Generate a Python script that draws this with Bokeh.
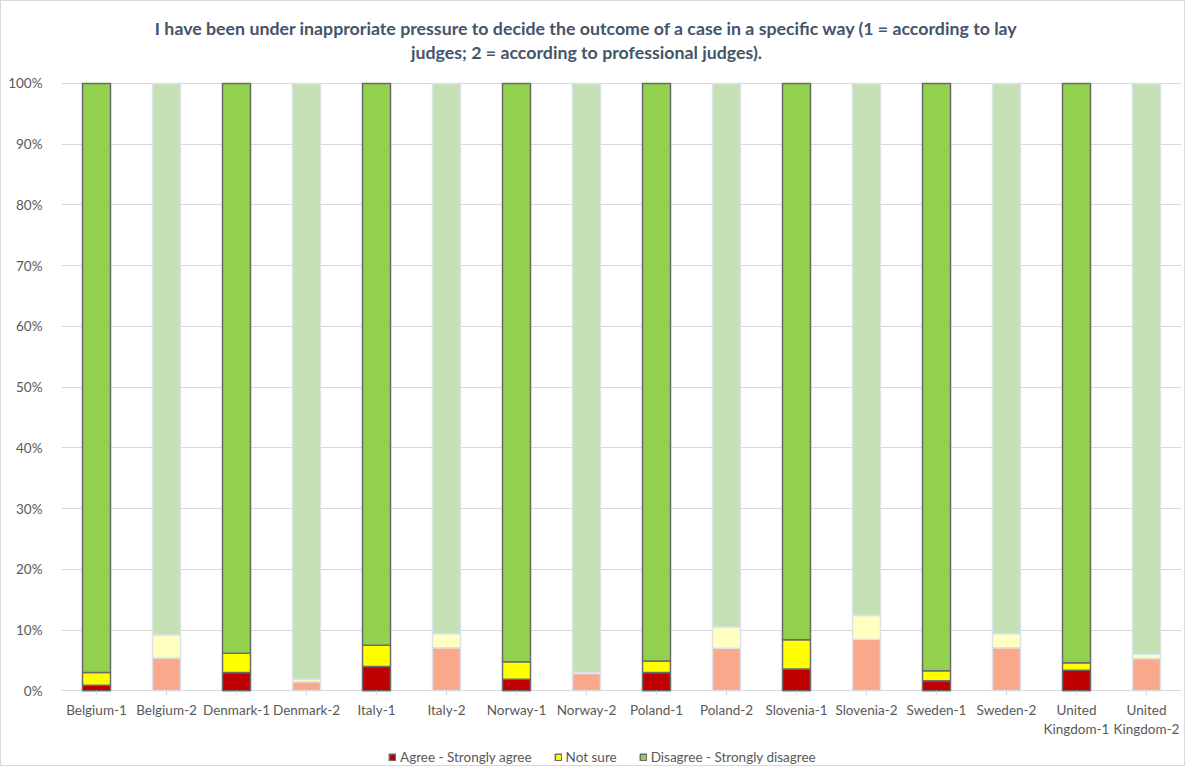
from bokeh.plotting import figure
from bokeh.models import (Range1d, FactorRange, FixedTicker, Legend, LegendItem,
                          ColumnDataSource, Label)
from bokeh.embed import file_html
from bokeh.resources import INLINE

categories = ["Belgium-1", "Belgium-2", "Denmark-1", "Denmark-2", "Italy-1", "Italy-2",
              "Norway-1", "Norway-2", "Poland-1", "Poland-2", "Slovenia-1", "Slovenia-2",
              "Sweden-1", "Sweden-2", "United Kingdom-1", "United Kingdom-2"]
agree = [0.9, 5.4, 3.0, 1.5, 4.0, 7.1, 1.9, 2.85, 3.0, 7.0, 3.6, 8.5, 1.65, 7.1, 3.4, 5.3]
not_sure = [2.1, 3.8, 3.2, 0.4, 3.5, 2.3, 2.9, 0.15, 1.9, 3.5, 4.8, 3.9, 1.65, 2.3, 1.2, 0.7]
disagree = [97.0, 90.8, 93.8, 98.1, 92.5, 90.6, 95.2, 97.0, 95.1, 89.5, 91.6, 87.6, 96.7, 90.6, 95.4, 94.0]
series = ["Agree - Strongly agree", "Not sure", "Disagree - Strongly disagree"]
y_ticks = [0, 10, 20, 30, 40, 50, 60, 70, 80, 90, 100]
title_lines = ["I have been under inapproriate pressure to decide the outcome of a case in a specific way (1 = according to lay",
               "judges; 2 = according to professional judges)."]

FONT = "Lato"
GREY = "#595959"
GRID = "#D9D9D9"

def subset(suffix):
    idx = [i for i, c in enumerate(categories) if c.endswith(suffix)]
    return ColumnDataSource(dict(
        cat=[categories[i] for i in idx],
        agree=[agree[i] for i in idx],
        not_sure=[not_sure[i] for i in idx],
        disagree=[disagree[i] for i in idx],
    ))

p = figure(frame_width=1120, frame_height=764, x_range=FactorRange(*categories),
           y_range=Range1d(-12.30, 113.50), output_backend="svg", toolbar_location=None,
           title=None, x_axis_location=None,
           min_border_left=60, min_border_right=3, min_border_top=0, min_border_bottom=0)
p.outline_line_color = None
p.background_fill_color = "white"
p.border_fill_color = "white"
p.styles = {"border": "1px solid #D9D9D9"}
for g in p.xgrid:
    g.visible = False

src1 = subset("-1")
src2 = subset("-2")
keys = ["agree", "not_sure", "disagree"]
r1 = p.vbar_stack(keys, x="cat", width=0.4, source=src1,
                  color=["#C00000", "#FFFF00", "#92D050"],
                  line_color="#6B6B6B", line_width=1.5)
r2 = p.vbar_stack(keys, x="cat", width=0.4, source=src2,
                  fill_color=["#FAA88C", "#FFFFC0", "#C5E0B4"],
                  line_color="#DCE2EA", line_width=1.5)

p.yaxis.ticker = FixedTicker(ticks=y_ticks)
p.yaxis.major_label_overrides = {v: f"{v}%" for v in y_ticks}
p.yaxis.axis_line_color = None
p.yaxis.major_tick_line_color = None
p.yaxis.minor_tick_line_color = None
p.yaxis.major_label_text_font = FONT
p.yaxis.major_label_text_font_size = "13.5px"
p.yaxis.major_label_text_color = GREY
p.yaxis.major_label_standoff = 13
p.ygrid.grid_line_color = GRID
p.ygrid.ticker = FixedTicker(ticks=y_ticks)

# category axis: tick marks and (wrapped) labels
line1 = [c.split(" ")[0] if c.startswith("United") else c for c in categories]
line2 = [c.split(" ", 1)[1] if c.startswith("United") else "" for c in categories]
lab = ColumnDataSource(dict(cat=categories, l1=line1, l2=line2,
                            t0=[0] * len(categories), t1=[-0.7] * len(categories),
                            y1=[-3.08] * len(categories), y2=[-6.3] * len(categories)))
p.segment(x0="cat", x1="cat", y0="t0", y1="t1", source=lab, line_color=GRID, line_width=1)
p.text(x="cat", y="y1", text="l1", source=lab, text_align="center",
       text_baseline="middle", text_font={"value": FONT}, text_font_size="13.5px",
       text_color=GREY)
p.text(x="cat", y="y2", text="l2", source=lab, text_align="center",
       text_baseline="middle", text_font={"value": FONT}, text_font_size="13.5px",
       text_color=GREY)

# title
for txt, yy in zip(title_lines, [109.2, 105.25]):
    p.add_layout(Label(x=7.5, y=yy, text=txt, text_align="center", text_baseline="middle",
                       text_font=FONT, text_font_size="17.75px", text_font_style="bold",
                       text_color="#44546A"))

legend = Legend(items=[LegendItem(label=series[i], renderers=[r1[i]]) for i in range(3)],
                orientation="horizontal", location=(327, 0),
                label_text_font=FONT, label_text_font_size="13.5px",
                label_text_color=GREY, glyph_width=8, glyph_height=8,
                label_standoff=4, spacing=22, border_line_color=None,
                background_fill_alpha=0, padding=0, margin=0)
p.add_layout(legend, "center")

open("out.html", "w").write(file_html(p, INLINE))
